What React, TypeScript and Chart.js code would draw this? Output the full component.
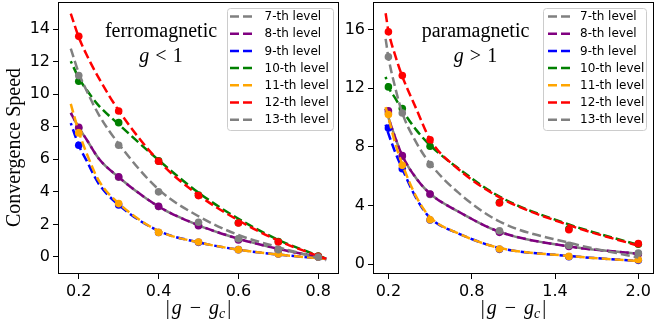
import React, { useEffect, useRef } from "react";
import { Chart, registerables } from "chart.js";

Chart.register(...registerables);

// ---------- shared ----------
const levelLabels = ["7-th level", "8-th level", "9-th level", "10-th level", "11-th level", "12-th level", "13-th level"];
const levelColors = ["#808080", "#800080", "#0000ff", "#008000", "#ffa500", "#ff0000", "#808080"];

// ---------- left panel: ferromagnetic, g < 1 ----------
const ferroDotX = [0.2, 0.3, 0.4, 0.5, 0.6, 0.7, 0.8];
const ferroDot7 = [7.9, 4.9, 3.1, 1.95, 1.1, 0.45, 0.0];
const ferroDot8 = [7.97, 4.92, 3.11, 1.92, 1.05, 0.42, 0.02];
const ferroDot9 = [6.86, 3.2, 1.5, 0.9, 0.45, 0.18, 0.0];
const ferroDot10 = [10.79, 8.25, 5.9, 3.8, 2.1, 0.95, 0.05];
const ferroDot11 = [7.62, 3.28, 1.51, 0.92, 0.45, 0.18, 0.0];
const ferroDot12 = [13.55, 8.97, 5.88, 3.77, 2.09, 0.92, 0.04];
const ferroDot13 = [11.14, 6.86, 4.0, 2.13, 1.12, 0.45, 0.0];

const ferroCurveX = [0.18, 0.2, 0.22, 0.25, 0.3, 0.4, 0.5, 0.6, 0.7, 0.82];
const ferroCurve7 = [8.85, 7.95, 7.2, 6.05, 4.9, 3.1, 1.95, 1.12, 0.5, -0.1];
const ferroCurve8 = [8.85, 7.95, 7.2, 6.05, 4.9, 3.1, 1.95, 1.12, 0.5, -0.1];
const ferroCurve9 = [8.22, 6.86, 5.9, 4.5, 3.2, 1.6, 0.9, 0.45, 0.15, -0.12];
const ferroCurve10 = [12.02, 11.0, 10.25, 9.3, 8.15, 5.95, 3.95, 2.35, 1.05, -0.1];
const ferroCurve11 = [9.4, 7.7, 6.35, 4.7, 3.3, 1.6, 0.9, 0.45, 0.15, -0.12];
const ferroCurve12 = [14.95, 13.5, 12.4, 11.0, 9.0, 5.9, 3.8, 2.25, 1.0, -0.12];
const ferroCurve13 = [12.8, 11.3, 10.2, 8.75, 6.95, 4.15, 2.5, 1.35, 0.6, -0.2];

const ferroXTicks = [0.2, 0.4, 0.6, 0.8];
const ferroYTicks = [0, 2, 4, 6, 8, 10, 12, 14];

// ---------- right panel: paramagnetic, g > 1 ----------
const paraDotX = [0.2, 0.3, 0.5, 1.0, 1.5, 2.0];
const paraDot7 = [10.3, 7.35, 4.75, 2.2, 1.25, 0.7];
const paraDot8 = [10.45, 7.39, 4.78, 2.16, 1.2, 0.68];
const paraDot9 = [9.28, 6.5, 3.0, 1.0, 0.5, 0.25];
const paraDot10 = [12.08, 10.6, 8.03, 4.2, 2.4, 1.35];
const paraDot11 = [10.19, 6.73, 3.02, 1.02, 0.52, 0.29];
const paraDot12 = [15.84, 12.85, 8.48, 4.16, 2.34, 1.39];
const paraDot13 = [14.13, 10.3, 6.78, 2.27, 1.27, 0.75];

const paraCurveX = [0.18, 0.2, 0.25, 0.3, 0.4, 0.5, 0.7, 1.0, 1.5, 2.0];
const paraCurve7 = [10.6, 10.0, 8.6, 7.4, 5.85, 4.8, 3.6, 2.2, 1.2, 0.7];
const paraCurve8 = [10.6, 10.0, 8.6, 7.4, 5.85, 4.8, 3.6, 2.2, 1.2, 0.7];
const paraCurve9 = [9.5, 8.9, 7.6, 6.5, 4.5, 3.15, 2.1, 1.1, 0.55, 0.2];
const paraCurve10 = [12.76, 12.1, 11.3, 10.5, 9.15, 8.1, 6.55, 4.6, 2.7, 1.3];
const paraCurve11 = [10.7, 10.0, 8.2, 6.8, 4.6, 3.2, 2.1, 1.1, 0.55, 0.2];
const paraCurve12 = [17.1, 15.9, 14.2, 12.8, 10.6, 8.5, 6.5, 4.55, 2.65, 1.25];
const paraCurve13 = [15.36, 14.1, 12.0, 10.3, 8.3, 6.85, 4.9, 2.9, 1.45, 0.45];

const paraXTicks = [0.2, 0.8, 1.4, 2.0];
const paraYTicks = [0, 4, 8, 12, 16];

// ---------- drawing helpers ----------
const SERIF = '"Liberation Serif", "DejaVu Serif", serif';
const SANS = '"DejaVu Sans", sans-serif';

type Piece = { t: string; font: string; dy?: number; gap?: number };

function drawRich(ctx: CanvasRenderingContext2D, pieces: Piece[], cx: number, baseline: number) {
  let total = 0;
  const widths: number[] = [];
  pieces.forEach((p) => {
    ctx.font = p.font;
    const w = ctx.measureText(p.t).width;
    widths.push(w);
    total += w + (p.gap || 0);
  });
  let x = cx - total / 2;
  ctx.textAlign = "left";
  ctx.textBaseline = "alphabetic";
  pieces.forEach((p, i) => {
    x += p.gap || 0;
    ctx.font = p.font;
    ctx.fillText(p.t, x, baseline + (p.dy || 0));
    x += widths[i];
  });
}

type PanelCfg = {
  dotX: number[];
  dots: number[][];
  curveX: number[];
  curves: number[][];
  xMin: number;
  xMax: number;
  yMin: number;
  yMax: number;
  xTicks: number[];
  yTicks: number[];
  yAxisWidth: number;
  padRight: number;
  title1: string;
  title2op: string;
  titleCx: number;
  legendBox: [number, number, number, number];
  lineX: [number, number];
  textX: number;
  yTitle: boolean;
};

function makeDecor(cfg: PanelCfg) {
  return {
    id: "decor",
    afterDraw(chart: any) {
      const ctx: CanvasRenderingContext2D = chart.ctx;
      const a = chart.chartArea;
      ctx.save();
      // frame
      ctx.strokeStyle = "#000";
      ctx.lineWidth = 1;
      ctx.strokeRect(a.left + 0.5, a.top + 0.5, a.right - a.left - 1, a.bottom - a.top - 1);

      ctx.fillStyle = "#000";
      // annotations
      ctx.font = `20px ${SERIF}`;
      ctx.textAlign = "center";
      ctx.textBaseline = "alphabetic";
      ctx.fillText(cfg.title1, cfg.titleCx, 37);
      drawRich(
        ctx,
        [
          { t: "g", font: `italic 20px ${SERIF}` },
          { t: cfg.title2op, font: `20px ${SERIF}`, gap: 6 },
          { t: "1", font: `20px ${SERIF}`, gap: 6 },
        ],
        cfg.titleCx,
        62
      );

      // x axis title |g - g_c|
      const cx = (a.left + a.right) / 2;
      drawRich(
        ctx,
        [
          { t: "|", font: `20px ${SERIF}` },
          { t: "g", font: `italic 20px ${SERIF}`, gap: 2 },
          { t: "\u2212", font: `20px ${SERIF}`, gap: 8 },
          { t: "g", font: `italic 20px ${SERIF}`, gap: 8 },
          { t: "c", font: `italic 14px ${SERIF}`, dy: 4 },
          { t: "|", font: `20px ${SERIF}`, gap: 2 },
        ],
        cx,
        314
      );

      // y axis title
      if (cfg.yTitle) {
        ctx.save();
        ctx.translate(20, 147.5);
        ctx.rotate(-Math.PI / 2);
        ctx.font = `20px ${SERIF}`;
        ctx.textAlign = "center";
        ctx.fillText("Convergence Speed", 0, 0);
        ctx.restore();
      }

      // legend
      const [bx1, by1, bx2, by2] = cfg.legendBox;
      ctx.beginPath();
      const r = 3;
      ctx.moveTo(bx1 + r, by1);
      ctx.arcTo(bx2, by1, bx2, by2, r);
      ctx.arcTo(bx2, by2, bx1, by2, r);
      ctx.arcTo(bx1, by2, bx1, by1, r);
      ctx.arcTo(bx1, by1, bx2, by1, r);
      ctx.closePath();
      ctx.fillStyle = "rgba(255,255,255,0.8)";
      ctx.fill();
      ctx.strokeStyle = "#cccccc";
      ctx.lineWidth = 1;
      ctx.stroke();

      levelLabels.forEach((lab, i) => {
        const y = by1 + 8 + i * 17.2;
        ctx.strokeStyle = levelColors[i];
        ctx.lineWidth = 2.5;
        ctx.setLineDash([9, 4]);
        ctx.beginPath();
        ctx.moveTo(cfg.lineX[0], y);
        ctx.lineTo(cfg.lineX[1], y);
        ctx.stroke();
        ctx.setLineDash([]);
        ctx.fillStyle = "#000";
        ctx.font = `12px ${SANS}`;
        ctx.textAlign = "left";
        ctx.textBaseline = "middle";
        ctx.fillText(lab, cfg.textX, y + 0.5);
      });
      ctx.restore();
    },
  };
}

function buildDatasets(cfg: PanelCfg) {
  const ds: any[] = [];
  const offsets = [6.5, 0, 6.5, 6.5, 0, 0, 0];
  for (let i = 0; i < 7; i++) {
    const order = (6 - i) * 2;
    ds.push({
      label: levelLabels[i] + " data",
      data: cfg.dotX.map((x, j) => ({ x, y: cfg.dots[i][j] })),
      showLine: false,
      pointRadius: 3.8,
      pointBackgroundColor: levelColors[i],
      pointBorderWidth: 0,
      borderColor: levelColors[i],
      order: order + 1,
    });
    ds.push({
      label: levelLabels[i],
      data: cfg.curveX.map((x, j) => ({ x, y: cfg.curves[i][j] })),
      borderColor: levelColors[i],
      borderWidth: 2.5,
      borderDash: [9, 4],
      borderDashOffset: offsets[i],
      pointRadius: 0,
      fill: false,
      cubicInterpolationMode: "monotone",
      order: order,
    });
  }
  return ds;
}

function Panel({ cfg, left, width }: { cfg: PanelCfg; left: number; width: number }) {
  const ref = useRef<HTMLCanvasElement | null>(null);
  useEffect(() => {
    if (!ref.current) return;
    const chart = new Chart(ref.current, {
      type: "line",
      data: { datasets: buildDatasets(cfg) },
      options: {
        responsive: false,
        animation: false,
        devicePixelRatio: 1,
        layout: { autoPadding: false, padding: { top: 2, right: cfg.padRight, left: 0, bottom: 0 } },
        plugins: { legend: { display: false }, tooltip: { enabled: false } },
        events: [],
        scales: {
          x: {
            type: "linear",
            min: cfg.xMin,
            max: cfg.xMax,
            afterBuildTicks: (s: any) => {
              s.ticks = cfg.xTicks.map((v) => ({ value: v }));
            },
            afterFit: (s: any) => {
              s.height = 47;
              s.paddingLeft = 0;
              s.paddingRight = 0;
            },
            ticks: {
              callback: (v: any) => Number(v).toFixed(1),
              font: { family: SANS, size: 16 },
              color: "#000",
              padding: 3,
              maxRotation: 0,
              autoSkip: false,
            },
            grid: { display: true, drawOnChartArea: false, drawTicks: true, tickLength: 5, tickColor: "#000", tickWidth: 1 },
            border: { display: false },
          },
          y: {
            type: "linear",
            min: cfg.yMin,
            max: cfg.yMax,
            afterBuildTicks: (s: any) => {
              s.ticks = cfg.yTicks.map((v) => ({ value: v }));
            },
            afterFit: (s: any) => {
              s.width = cfg.yAxisWidth;
              s.paddingTop = 0;
              s.paddingBottom = 0;
            },
            ticks: {
              callback: (v: any) => String(v),
              font: { family: SANS, size: 16 },
              color: "#000",
              padding: 3,
              autoSkip: false,
            },
            grid: { display: true, drawOnChartArea: false, drawTicks: true, tickLength: 5, tickColor: "#000", tickWidth: 1 },
            border: { display: false },
          },
        },
      } as any,
      plugins: [makeDecor(cfg)],
    });
    return () => chart.destroy();
  }, []);
  return (
    <canvas
      ref={ref}
      width={width}
      height={321}
      style={{ position: "absolute", left, top: 0, width, height: 321, display: "block" }}
    />
  );
}

const ferroCfg: PanelCfg = {
  dotX: ferroDotX,
  dots: [ferroDot7, ferroDot8, ferroDot9, ferroDot10, ferroDot11, ferroDot12, ferroDot13],
  curveX: ferroCurveX,
  curves: [ferroCurve7, ferroCurve8, ferroCurve9, ferroCurve10, ferroCurve11, ferroCurve12, ferroCurve13],
  xMin: 0.148,
  xMax: 0.852,
  yMin: -1.045,
  yMax: 15.66,
  xTicks: ferroXTicks,
  yTicks: ferroYTicks,
  yAxisWidth: 58,
  padRight: 6,
  title1: "ferromagnetic",
  title2op: "<",
  titleCx: 161,
  legendBox: [227.5, 8.5, 333.5, 130.5],
  lineX: [230, 255],
  textX: 264.5,
  yTitle: true,
};

const paraCfg: PanelCfg = {
  dotX: paraDotX,
  dots: [paraDot7, paraDot8, paraDot9, paraDot10, paraDot11, paraDot12, paraDot13],
  curveX: paraCurveX,
  curves: [paraCurve7, paraCurve8, paraCurve9, paraCurve10, paraCurve11, paraCurve12, paraCurve13],
  xMin: 0.089,
  xMax: 2.113,
  yMin: -0.68,
  yMax: 17.87,
  xTicks: paraXTicks,
  yTicks: paraYTicks,
  yAxisWidth: 28,
  padRight: 10,
  title1: "paramagnetic",
  title2op: ">",
  titleCx: 130.5,
  legendBox: [198.5, 8.5, 301.5, 130.5],
  lineX: [203, 226],
  textX: 235,
  yTitle: false,
};

export default function App() {
  return (
    <div style={{ position: "absolute", left: 0, top: 0, width: 664, height: 321, background: "#fff", overflow: "hidden" }}>
      <Panel cfg={ferroCfg} left={0} width={345} />
      <Panel cfg={paraCfg} left={345} width={319} />
    </div>
  );
}
